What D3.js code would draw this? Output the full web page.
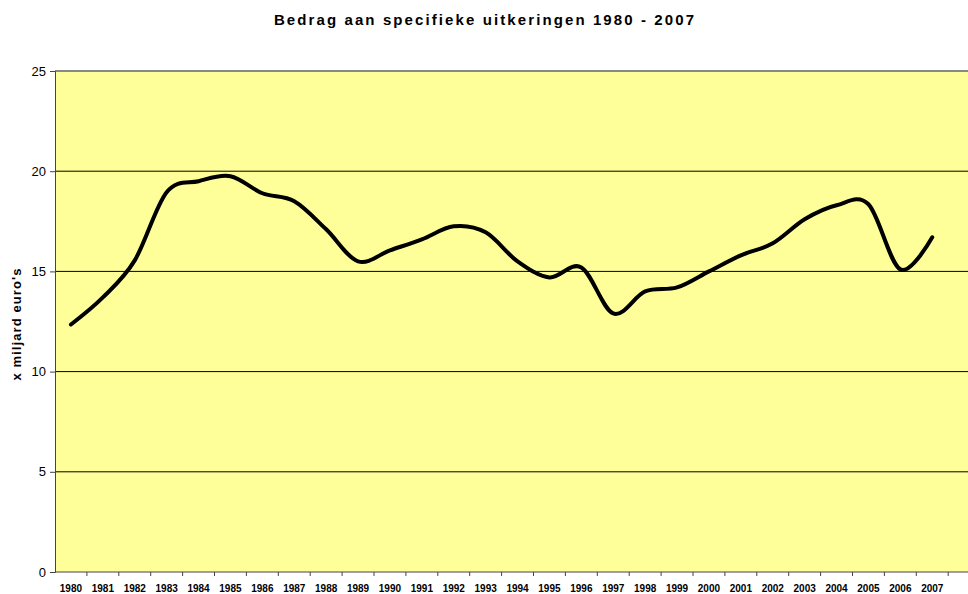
<!DOCTYPE html>
<html>
<head>
<meta charset="utf-8">
<script src="https://d3js.org/d3.v7.min.js"></script>
<style>
  body { margin: 0; background: #fff; }
  text { font-family: "Liberation Sans", Arial, sans-serif; }
</style>
</head>
<body>
<svg width="968" height="594"></svg>
<script>
// data
var years = ["1980","1981","1982","1983","1984","1985","1986","1987","1988","1989",
             "1990","1991","1992","1993","1994","1995","1996","1997","1998","1999",
             "2000","2001","2002","2003","2004","2005","2006","2007"];
var amounts = [12.35, 13.7, 15.55, 18.95, 19.5, 19.75, 18.9, 18.5, 17.1, 15.5,
               16.05, 16.6, 17.25, 16.95, 15.5, 14.7, 15.2, 12.9, 14.0, 14.2,
               15.0, 15.8, 16.4, 17.6, 18.3, 18.35, 15.1, 16.7];
var yTicks = [0, 5, 10, 15, 20, 25];

var svg = d3.select("svg");
var plotL = 55, plotT = 71, plotB = 572, plotR = 968;
var bandW = 31.9;

var xs = d3.scaleBand().domain(years).range([plotL, plotL + years.length * bandW]);
var ys = d3.scaleLinear().domain([0, 25]).range([plotB, plotT]);

// title
svg.append("text")
   .attr("x", 485).attr("y", 25)
   .attr("text-anchor", "middle")
   .style("font-size", "15px").style("font-weight", "bold")
   .style("letter-spacing", "2.1px")
   .text("Bedrag aan specifieke uitkeringen 1980 - 2007");

// plot background
svg.append("rect")
   .attr("x", plotL).attr("y", plotT)
   .attr("width", plotR - plotL).attr("height", plotB - plotT)
   .attr("fill", "#ffff99");

// gridlines
svg.append("g").selectAll("line")
   .data(yTicks.filter(function(d) { return d > 0 && d < 25; }))
   .enter().append("line")
   .attr("x1", plotL).attr("x2", plotR)
   .attr("y1", function(d) { return ys(d); }).attr("y2", function(d) { return ys(d); })
   .attr("stroke", "#000").attr("stroke-width", 1);

// top border
svg.append("line")
   .attr("x1", plotL).attr("x2", plotR)
   .attr("y1", ys(25)).attr("y2", ys(25))
   .attr("stroke", "#888").attr("stroke-width", 2);

// y axis
var yAxis = svg.append("g")
   .attr("transform", "translate(" + plotL + ",0)")
   .call(d3.axisLeft(ys).tickValues(yTicks).tickSize(5).tickPadding(4).tickFormat(d3.format("d")));
yAxis.select(".domain").attr("stroke", "#444");
yAxis.selectAll(".tick line").attr("stroke", "#444");
yAxis.selectAll("text").style("font-size", "13px").style("font-family", "Liberation Sans, Arial, sans-serif");

// x axis: ticks between categories
var xg = svg.append("g").attr("transform", "translate(0," + plotB + ")");
xg.append("line")
  .attr("x1", plotL).attr("x2", plotR).attr("y1", 0).attr("y2", 0)
  .attr("stroke", "#444");
xg.selectAll(".tk")
  .data(years)
  .enter().append("line")
  .attr("class", "tk")
  .attr("x1", function(d) { return xs(d) + bandW; })
  .attr("x2", function(d) { return xs(d) + bandW; })
  .attr("y1", 0).attr("y2", 4)
  .attr("stroke", "#444");
xg.selectAll(".lbl")
  .data(years)
  .enter().append("text")
  .attr("class", "lbl")
  .attr("x", function(d) { return xs(d) + bandW / 2; })
  .attr("y", 20)
  .attr("text-anchor", "middle")
  .style("font-size", "10px").style("font-weight", "bold")
  .text(function(d) { return d; });

// y axis title
svg.append("text")
   .attr("transform", "translate(21," + 324 + ") rotate(-90)")
   .attr("text-anchor", "middle")
   .style("font-size", "13px").style("font-weight", "bold")
   .style("letter-spacing", "1.1px")
   .text("x miljard euro's");

// the smoothed line
var line = d3.line()
   .x(function(d, i) { return xs(years[i]) + bandW / 2; })
   .y(function(d) { return ys(d); })
   .curve(d3.curveCardinal.tension(0));

svg.append("path")
   .datum(amounts)
   .attr("d", line)
   .attr("fill", "none")
   .attr("stroke", "#000")
   .attr("stroke-width", 4)
   .attr("stroke-linecap", "round")
   .attr("stroke-linejoin", "round");
</script>
</body>
</html>
